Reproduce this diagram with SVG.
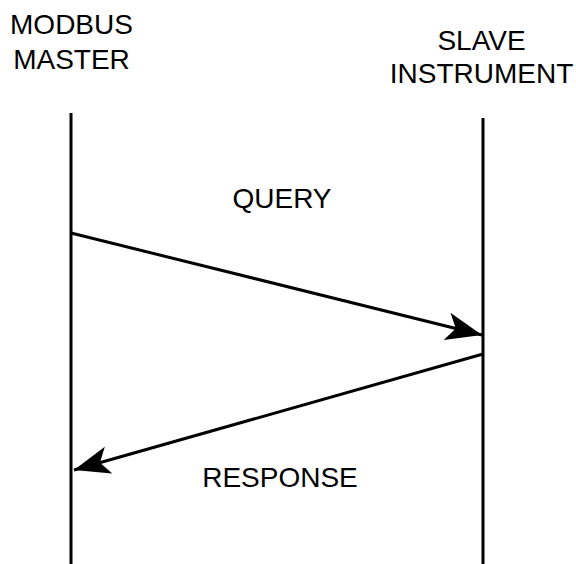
<svg xmlns="http://www.w3.org/2000/svg" width="576" height="564" viewBox="0 0 576 564">
<style>
text{font-family:"Liberation Sans",Arial,sans-serif;font-size:28px;fill:#000;text-anchor:middle}
.life{stroke:#000;stroke-width:3;fill:none}
.msg{stroke:#000;stroke-width:3;fill:none;marker-end:url(#ah)}
</style>
<defs>
<marker id="ah" markerUnits="userSpaceOnUse" markerWidth="40" markerHeight="30" refX="36" refY="14" orient="auto" viewBox="0 0 40 30">
<path d="M36 14 L0 0 L9 14 L0 28 Z" fill="#000"/>
</marker>
</defs>
<rect width="576" height="564" fill="#fff"/>
<g id="master">
<text x="71.5" y="34">MODBUS</text>
<text x="71.5" y="69">MASTER</text>
<line class="life" x1="71" y1="113" x2="71" y2="564"/>
</g>
<g id="slave">
<text x="481.5" y="50">SLAVE</text>
<text x="481.5" y="83">INSTRUMENT</text>
<line class="life" x1="483" y1="118" x2="483" y2="564"/>
</g>
<g id="connectors">
<line class="msg" x1="71" y1="233" x2="482" y2="335"/>
<text x="282" y="208">QUERY</text>
<line class="msg" x1="483" y1="354" x2="74" y2="470"/>
<text x="280" y="487">RESPONSE</text>
</g>
</svg>
